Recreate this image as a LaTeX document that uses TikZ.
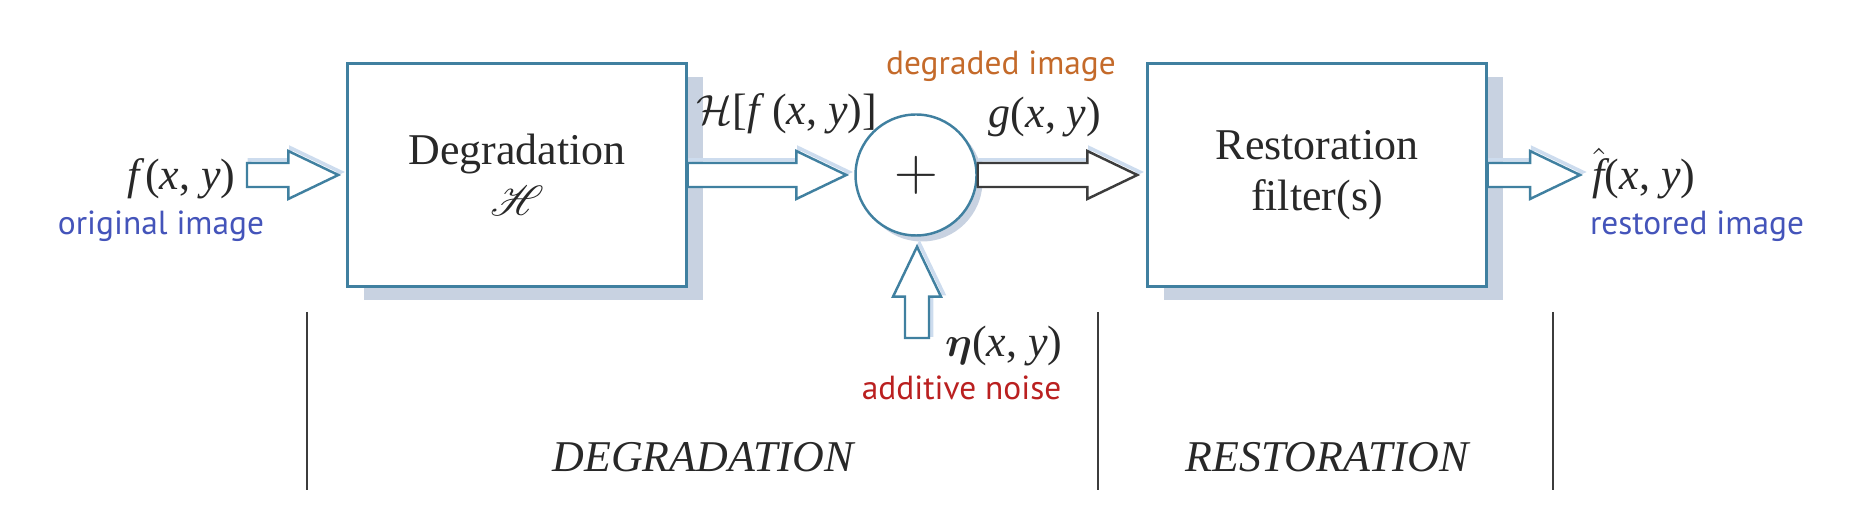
\documentclass[tikz,border=0pt]{standalone}
\usepackage{amsmath}
\usepackage{mathrsfs}
\usepackage{fontspec}
\setmainfont{Liberation Serif}
\newfontfamily\labelfont{PT Sans}
\usetikzlibrary{positioning, calc, shadows}

\definecolor{boxline}{RGB}{64,128,160}
\definecolor{boxshade}{RGB}{200,210,225}
\definecolor{glow}{RGB}{205,220,238}
\definecolor{darkline}{RGB}{60,60,60}
\definecolor{origblue}{RGB}{68,84,186}
\definecolor{degorange}{RGB}{196,106,42}
\definecolor{noisered}{RGB}{186,32,32}
\definecolor{ink}{RGB}{40,40,40}

\newcommand{\xy}{(\textit{x}, \textit{y})}

% hollow block arrow from #2 to #3
\newcommand{\fatarrow}[3][]{%
  \coordinate (hb) at ($(#3)!5mm!(#2)$);
  \draw[fat,#1] ($(#2)!1.2mm!90:(#3)$) -- ($(hb)!1.2mm!90:(#3)$) -- ($(hb)!2.4mm!90:(#3)$) -- (#3)
    -- ($(hb)!2.4mm!-90:(#3)$) -- ($(hb)!1.2mm!-90:(#3)$) -- ($(#2)!1.2mm!-90:(#3)$) -- cycle;
}

\begin{document}
\begin{tikzpicture}[
    x=0.1mm, y=-0.1mm,
    node distance=2mm,
    block/.style={rectangle, draw=boxline, fill=white, line width=0.7pt, minimum width=33.9mm, minimum height=22.3mm, align=center, font=\fontsize{12.5}{14.5}\selectfont, text=ink, drop shadow={shadow xshift=1.6mm, shadow yshift=-1.4mm, fill=boxshade, opacity=1}},
    adder/.style={circle, draw=boxline, fill=white, line width=0.7pt, minimum size=12.1mm, inner sep=0pt, font=\fontsize{16}{16}\selectfont, text=ink, drop shadow={shadow xshift=0.6mm, shadow yshift=-0.6mm, fill=boxshade, opacity=1}},
    fat/.style={draw=boxline, fill=white, line width=0.7pt, line join=miter, preaction={draw=glow, line width=1pt, transform canvas={shift={(0.25mm,0.3mm)}}}},
    mathlabel/.style={font=\fontsize{12.5}{13}\selectfont, text=ink, inner sep=0pt},
    caption/.style={font=\fontsize{9.5}{10}\labelfont, inner sep=0pt},
    phase/.style={font=\fontsize{12.5}{13}\selectfont\itshape, text=ink, inner sep=0pt},
    divider/.style={draw=darkline, line width=0.8pt}
]
    \useasboundingbox (0,0) rectangle (1858,520);

    % Blocks
    \node (deg) [block] at (517,175) {Degradation\\$\mathscr{H}$};
    \node (sum) [adder] at (916,175) {$+$};
    \node (rest) [block] at (1317,175) {Restoration\\filter(s)};

    % Signals
    \node (fin) [mathlabel, anchor=base east] at (236,190) {\textit{f}\xy};
    \node (forig) [caption, text=origblue, anchor=base] at (161,235) {original image};
    \node (hf) [mathlabel, anchor=base] at (787,125) {$\mathcal{H}$[\textit{f}\,\xy]};
    \node (gdeg) [caption, text=degorange, anchor=base] at (1001,75) {degraded image};
    \node (gout) [mathlabel, anchor=base] at (1045,128) {\textit{g}\xy};
    \node (eta) [mathlabel, anchor=base east] at (1063,357) {$\boldsymbol{\eta}$\xy};
    \node (noise) [caption, text=noisered, anchor=base east] at (1062,400) {additive noise};
    \node (fhat) [mathlabel, anchor=base west] at (1592,190) {$\hat{\text{\itshape f}}$\xy};
    \node (frest) [caption, text=origblue, anchor=base] at (1697,235) {restored image};

    % Arrow ends
    \coordinate (inTail) at (247,175);
    \coordinate (inTip) at ($(deg.west)+(-8,0)$);
    \coordinate (hTip) at ($(sum.west)+(-8,0)$);
    \coordinate (gTip) at ($(rest.west)+(-9,0)$);
    \coordinate (outTip) at (1580,175);
    \coordinate (nTail) at (917,338);
    \coordinate (nTip) at ($(sum.south)+(1,10)$);

    \fatarrow{inTail}{inTip}
    \fatarrow{deg.east}{hTip}
    \fatarrow[draw=darkline]{sum.east}{gTip}
    \fatarrow{rest.east}{outTip}
    \fatarrow{nTail}{nTip}

    % Phases
    \foreach \x in {307,1098,1553}
        \draw[divider] (\x,312) -- (\x,490);
    \node (pdeg) [phase, anchor=base] at (703,472) {DEGRADATION};
    \node (prest) [phase, anchor=base] at (1327,472) {RESTORATION};

\end{tikzpicture}
\end{document}
